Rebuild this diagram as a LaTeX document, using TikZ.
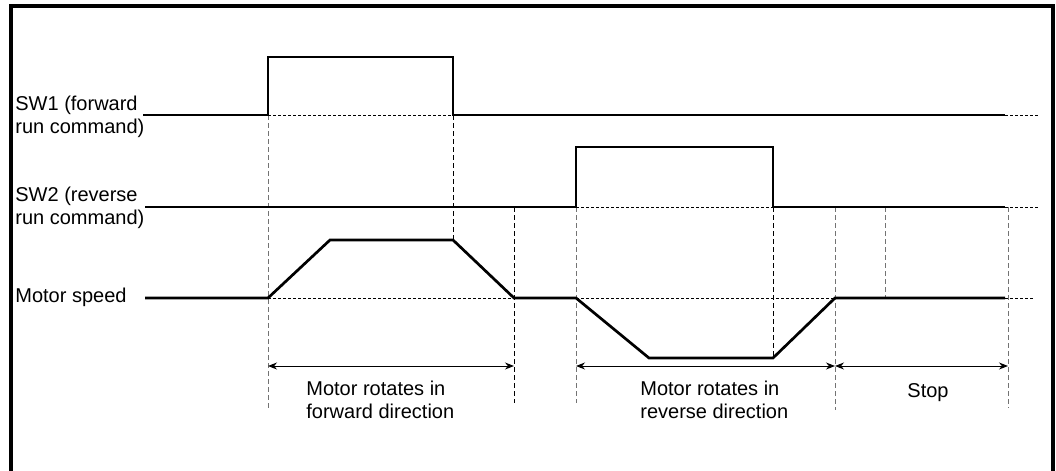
\documentclass[tikz,border=0pt]{standalone}
\usepackage{fontspec}
\setmainfont{Liberation Sans}
\usepackage{tikz}
\usetikzlibrary{arrows.meta, positioning}
\tikzstyle{signal} = [line width=1.35pt, line join=miter]
\tikzstyle{level} = [line width=0.5pt, dash pattern=on 1.5pt off 1pt]
\tikzstyle{guide} = [line width=0.5pt, dash pattern=on 2.5pt off 1.5pt, black]
\tikzstyle{guidegray} = [guide, black!55]
\tikzstyle{span} = [line width=0.5pt, {Stealth[length=4.5pt,width=3.5pt]}-{Stealth[length=4.5pt,width=3.5pt]}]
\tikzstyle{label} = [inner sep=0pt, align=left, font=\fontsize{10}{11.5}\selectfont]

\begin{document}
\begin{tikzpicture}[x=0.5pt, y=-0.5pt]
\clip (0,0) rectangle (1056,471);

% Frame
\draw[line width=2pt] (10.5,6) rectangle (1053,500);

% Signal names
\node[label, anchor=west] (sw1) at (15,116.5) {SW1 (forward\\run command)};
\node[label, anchor=west] (sw2) at (15,208) {SW2 (reverse\\run command)};
\node[label, anchor=west] (spd) at (15,297) {Motor speed};

% Guide lines
\draw[guidegray] (268,115) -- (268,410);
\draw[guide] (453,115) -- (453,240);
\draw[guide] (514,207) -- (514,403);
\draw[guidegray] (576,207) -- (576,403);
\draw[guide] (773,207) -- (773,358);
\draw[guidegray] (835,207) -- (835,410);
\draw[guidegray] (885,207) -- (885,298);
\draw[guidegray] (1008,207) -- (1008,408);

% Reference levels
\draw[level] (268,115) -- (453,115);
\draw[level] (1005,115) -- (1040,115);
\draw[level] (576,207) -- (773,207);
\draw[level] (1005,207) -- (1038,207);
\draw[level] (268,298) -- (514,298);
\draw[level] (576,298) -- (835,298);
\draw[level] (1005,298) -- (1033,298);

% Waveforms
\draw[signal] (143,115) -- (268,115) -- (268,57) -- (453,57) -- (453,115) -- (1005,115);
\draw[signal] (145,207) -- (576,207) -- (576,147) -- (773,147) -- (773,207) -- (1005,207);
\draw[signal] (145,298) -- (268,298) -- (330,240) -- (453,240) -- (514,298) -- (576,298)
  -- (649,358) -- (773,358) -- (835,298) -- (1005,298);

% Intervals
\coordinate (fwdA) at (268,366);
\coordinate (fwdB) at (514,366);
\coordinate (revA) at (576,366);
\coordinate (revB) at (835,366);
\coordinate (stpB) at (1008,366);
\draw[span] (fwdA) -- (fwdB);
\draw[span] (revA) -- (revB);
\draw[span] (revB) -- (stpB);

\node[label, anchor=west] (fwd) at (306,399.5) {Motor rotates in\\forward direction};
\node[label, anchor=west] (rev) at (640,399.5) {Motor rotates in\\reverse direction};
\node[label] (stp) at (928,393) {Stop};

\end{tikzpicture}
\end{document}
